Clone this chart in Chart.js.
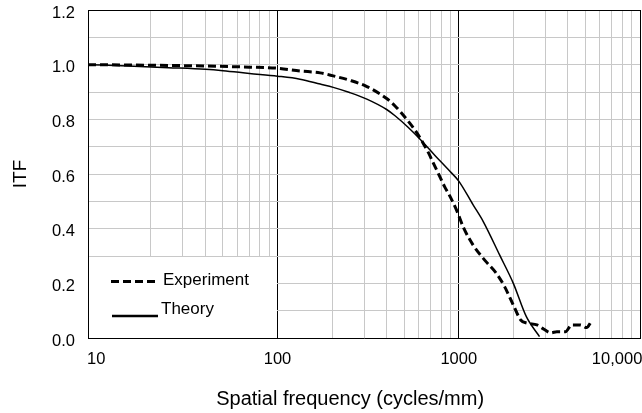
<!DOCTYPE html>
<html>
<head>
<meta charset="utf-8">
<title>ITF</title>
<script src="https://cdn.jsdelivr.net/npm/chart.js@4.4.1/dist/chart.umd.min.js"></script>
<style>
  html, body { margin: 0; padding: 0; background: #fff; }
  #wrap { width: 642px; height: 413px; }
</style>
</head>
<body>
<div id="wrap"><canvas id="itfChart"></canvas></div>
<script>
// Values
const expFreq = [9, 20, 40, 70, 100, 133, 172, 203, 250, 311, 400, 445, 484, 538, 585, 637, 680, 724, 770, 835, 892, 975, 1060, 1200, 1390, 1610, 1790, 2018, 2196, 2390, 2700, 2950, 3220, 3480, 3880, 4200, 4690, 5070, 5400];
const expItf = [1.0, 0.998, 0.995, 0.991, 0.987, 0.977, 0.970, 0.959, 0.943, 0.920, 0.876, 0.849, 0.822, 0.785, 0.752, 0.712, 0.678, 0.640, 0.603, 0.554, 0.520, 0.466, 0.405, 0.340, 0.285, 0.237, 0.188, 0.115, 0.066, 0.054, 0.048, 0.032, 0.019, 0.023, 0.023, 0.048, 0.048, 0.038, 0.062];

const theoryFreq = [9, 15, 25, 40, 50, 70, 100, 133, 172, 203, 250, 311, 400, 445, 525, 623, 739, 870, 1000, 1200, 1365, 1680, 2000, 2360, 2790];
const theoryItf = [1.0, 0.995, 0.989, 0.983, 0.978, 0.968, 0.958, 0.947, 0.929, 0.917, 0.898, 0.874, 0.836, 0.813, 0.771, 0.722, 0.668, 0.618, 0.574, 0.487, 0.426, 0.304, 0.200, 0.078, 0.005];

const seriesNames = ['Experiment', 'Theory'];

// axis ticks
const xMajor = [10, 100, 1000, 10000];
const xTickLabels = ['10', '100', '1000', '10,000'];
const yTickValues = [0, 0.1, 0.2, 0.3, 0.4, 0.5, 0.6, 0.7, 0.8, 0.9, 1.0, 1.1, 1.2];

const FONT = 'Liberation Sans, Arial, Helvetica, sans-serif';

// minor grid lines 20..90, 200..900, 2000..9000
let xTickValues = [];
for (let i = 0; i < xMajor.length; i++) {
    xTickValues.push(xMajor[i]);
    if (i < xMajor.length - 1) {
        for (let m = 2; m <= 9; m++) xTickValues.push(xMajor[i] * m);
    }
}

function toPoints(xs, ys) {
    return xs.map((x, i) => ({ x: x, y: ys[i] }));
}

// white legend box in the lower left corner, drawn over the grid
const legendBox = {
    id: 'legendBox',
    beforeDatasetsDraw(chart) {
        const { ctx, chartArea, scales } = chart;
        const right = Math.round(scales.x.getPixelForValue(100) - 0.5);
        const top = Math.round(scales.y.getPixelForValue(0.3) - 0.5);
        ctx.save();
        ctx.fillStyle = '#fff';
        ctx.fillRect(chartArea.left + 1, top + 1, right - chartArea.left - 1, chartArea.bottom - top - 1);
        ctx.restore();
    },
    afterDatasetsDraw(chart) {
        const { ctx, chartArea } = chart;
        const ds = chart.data.datasets;
        const left = chartArea.left;
        const bottom = chartArea.bottom;
        const rows = [
            { y: bottom - 56.5, x0: left + 23, x1: left + 70, textX: left + 75, base: bottom - 53.5, width: 3 },
            { y: bottom - 22, x0: left + 24, x1: left + 70, textX: left + 73, base: bottom - 24, width: 2.5 }
        ];
        ctx.save();
        ctx.font = '17px ' + FONT;
        ctx.textBaseline = 'alphabetic';
        ctx.fillStyle = '#000';
        rows.forEach((r, i) => {
            ctx.beginPath();
            ctx.setLineDash(ds[i].borderDash || []);
            ctx.lineWidth = r.width;
            ctx.strokeStyle = ds[i].borderColor;
            ctx.moveTo(r.x0, r.y);
            ctx.lineTo(r.x1, r.y);
            ctx.stroke();
            ctx.setLineDash([]);
            ctx.fillText(ds[i].label, r.textX, r.base);
        });
        ctx.restore();
    }
};

new Chart(document.getElementById('itfChart'), {
    type: 'line',
    data: {
        datasets: [
            {
                label: seriesNames[0],
                data: toPoints(expFreq, expItf),
                borderColor: '#000',
                borderWidth: 3,
                borderDash: [8, 4],
                pointRadius: 0,
                cubicInterpolationMode: 'monotone',
                fill: false
            },
            {
                label: seriesNames[1],
                data: toPoints(theoryFreq, theoryItf),
                borderColor: '#000',
                borderWidth: 1.5,
                pointRadius: 0,
                cubicInterpolationMode: 'monotone',
                fill: false
            }
        ]
    },
    options: {
        responsive: true,
        maintainAspectRatio: false,
        animation: false,
        layout: { padding: { left: 0, right: 2, top: 10, bottom: 0 } },
        plugins: {
            legend: { display: false },
            tooltip: { enabled: false }
        },
        scales: {
            x: {
                type: 'logarithmic',
                min: 9,
                max: 10000,
                afterBuildTicks: (scale) => {
                    scale.ticks = xTickValues.map(v => ({ value: v }));
                },
                afterFit: (scale) => {
                    scale.paddingLeft = 0;
                    scale.paddingRight = 0;
                    scale.height = 75;
                },
                grid: {
                    drawTicks: false,
                    lineWidth: 1,
                    color: (c) => {
                        const v = c.tick ? c.tick.value : null;
                        if (v === 10) return 'rgba(0,0,0,0)';
                        if (xMajor.includes(v)) return '#000';
                        return '#c8c8c8';
                    }
                },
                border: { display: true, color: '#000', width: 1 },
                ticks: {
                    autoSkip: false,
                    maxRotation: 0,
                    minRotation: 0,
                    padding: 12,
                    color: '#000',
                    font: { family: FONT, size: 16.5 },
                    callback: (value) => {
                        const k = xMajor.indexOf(value);
                        if (k < 0) return '';
                        // last label sits left of the corner, as in the reference
                        return k === xMajor.length - 1 ? xTickLabels[k] + ' '.repeat(10) : xTickLabels[k];
                    }
                },
                title: {
                    display: true,
                    text: 'Spatial frequency (cycles/mm)' + ' '.repeat(5),
                    color: '#000',
                    font: { family: FONT, size: 20 },
                    padding: { top: 0, bottom: 2 }
                }
            },
            y: {
                min: 0,
                max: 1.2,
                afterBuildTicks: (scale) => {
                    scale.ticks = yTickValues.map(v => ({ value: v }));
                },
                afterFit: (scale) => {
                    scale.width = 88;
                    scale.paddingTop = 0;
                    scale.paddingBottom = 0;
                },
                grid: {
                    drawTicks: false,
                    lineWidth: 1,
                    color: (c) => (c.tick && c.tick.value === 1.2) ? '#000' : '#c8c8c8'
                },
                border: { display: true, color: '#000', width: 1 },
                ticks: {
                    autoSkip: false,
                    padding: 13,
                    labelOffset: 3,
                    color: '#000',
                    font: { family: FONT, size: 16.5 },
                    callback: (value) => (Math.round(value * 10) % 2 === 0) ? value.toFixed(1) : ''
                },
                title: {
                    display: true,
                    text: 'ITF',
                    color: '#000',
                    font: { family: FONT, size: 19 },
                    padding: { top: 9, bottom: 0 }
                }
            }
        }
    },
    plugins: [legendBox]
});
</script>
</body>
</html>
